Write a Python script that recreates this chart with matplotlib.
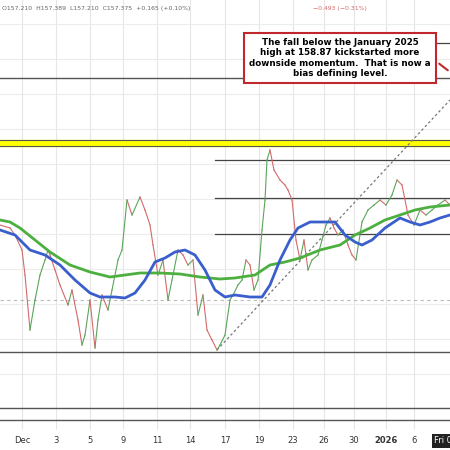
import matplotlib
matplotlib.use("Agg")
import matplotlib.pyplot as plt
import numpy as np

bar_x = [0,10,15,22,25,30,35,40,45,48,50,55,60,68,72,78,82,85,90,95,98,102,108,112,118,122,127,132,140,145,150,153,158,163,168,172,178,183,188,193,198,203,207,212,217,220,225,230,233,238,242,246,250,254,258,262,265,267,270,274,280,285,288,292,296,300,304,308,312,318,322,326,330,334,338,343,348,352,356,362,368,374,380,386,392,397,402,408,414,420,426,432,438,445,450]
price = [157.17,157.11,156.97,156.67,156.17,155.07,155.67,156.17,156.47,156.67,156.57,156.27,155.97,155.57,155.87,155.27,154.77,154.97,155.67,154.71,155.27,155.77,155.47,155.87,156.47,156.67,157.67,157.37,157.73,157.47,157.17,156.77,156.17,156.47,155.67,156.07,156.67,156.57,156.37,156.47,155.37,155.77,155.07,154.87,154.67,154.77,154.97,155.67,155.77,155.97,156.07,156.47,156.37,155.87,156.07,157.07,157.67,158.47,158.67,158.27,158.07,157.97,157.87,157.67,156.87,156.47,156.87,156.27,156.47,156.57,156.87,157.17,157.31,157.11,156.97,157.07,156.77,156.57,156.47,157.23,157.47,157.57,157.67,157.57,157.77,158.07,157.97,157.37,157.17,157.47,157.37,157.47,157.57,157.67,157.57]
blue_x = [0,15,30,45,60,75,90,100,115,125,135,145,155,165,175,185,195,205,215,225,235,250,262,270,280,290,298,310,320,335,345,355,362,372,385,400,410,420,430,440,450]
blue_ma = [157.07,156.97,156.67,156.57,156.37,156.07,155.81,155.73,155.73,155.71,155.81,156.07,156.43,156.51,156.63,156.67,156.57,156.27,155.87,155.73,155.77,155.73,155.73,155.97,156.47,156.87,157.11,157.23,157.23,157.23,156.97,156.83,156.77,156.87,157.11,157.31,157.23,157.17,157.23,157.31,157.37]
green_x = [0,10,20,35,50,70,90,110,125,140,160,180,200,220,235,255,270,285,300,320,340,355,370,385,400,415,430,450]
green_ma = [157.27,157.23,157.11,156.87,156.63,156.37,156.23,156.13,156.17,156.21,156.21,156.19,156.13,156.09,156.11,156.17,156.37,156.43,156.51,156.67,156.77,156.97,157.11,157.27,157.37,157.47,157.53,157.57]
full_levels = [160.11, 154.63, 153.51, 153.27]
short_levels = [158.47, 157.71, 156.99]
date_labels = ["Dec","3","5","9","11","14","17","19","23","26","30","2026","6"]
date_x = [22,56,90,123,157,190,225,259,293,324,354,386,414]

fig = plt.figure(figsize=(4.5,4.5), dpi=100)
ax = fig.add_axes([0,0,1,1])
ax.set_xlim(0,450); ax.set_ylim(152.67,161.67)
ax.axis('off')
for gx in date_x:
    ax.axvline(gx, color='#e6e6e6', lw=0.8, zorder=0)
for gy in np.arange(152.8,161.6,0.7):
    ax.axhline(gy, color='#ececec', lw=0.8, zorder=0)
ax.axhspan(158.75,158.87, color='#ffff00', zorder=1)
ax.axhline(158.87, color='#555', lw=0.8); ax.axhline(158.75, color='#555', lw=0.8)
for l in full_levels:
    ax.axhline(l, color='#555', lw=1)
for l in short_levels:
    ax.plot([215,450],[l,l], color='#444', lw=0.9)
ax.plot([410,450],[160.81,160.81], color='#444', lw=0.9)
ax.axhline(155.67, color='#bbb', lw=0.8, ls=(0,(3,3)))
ax.plot([217,450],[154.67,159.67], color='#777', lw=0.9, ls=(0,(2,2)))
for i in range(len(price)-1):
    c = '#5aa55a' if price[i+1] >= price[i] else '#d46a6a'
    ax.plot(bar_x[i:i+2], price[i:i+2], color=c, lw=0.8, zorder=2)
ax.plot(green_x, green_ma, color='#4caf3f', lw=2, zorder=3)
ax.plot(blue_x, blue_ma, color='#3a5fcd', lw=2, zorder=3)
ax.add_patch(plt.Rectangle((0,0.0),1,0.045,transform=ax.transAxes,color='white',zorder=4))
for lab,x in zip(date_labels,date_x):
    ax.text(x,0.015,lab,transform=ax.get_xaxis_transform(),ha='center',fontsize=6,
            color='#333',fontweight='bold' if lab=='2026' else 'normal',zorder=5)
ax.text(434,0.015,"Fri 0",transform=ax.get_xaxis_transform(),fontsize=6,color='white',zorder=6,
        bbox=dict(boxstyle='square,pad=0.3',fc='#222',ec='none'))
ax.text(0.005,0.982,"O157.210  H157.389  L157.210  C157.375  +0.165 (+0.10%)",transform=ax.transAxes,
        fontsize=4.4,color='#666',va='center')
ax.text(0.695,0.982,"\u22120.493 (\u22120.31%)",transform=ax.transAxes,fontsize=4.4,color='#d46a6a',va='center')
ax.text(340/450,1-58/450,"The fall below the January 2025\nhigh at 158.87 kickstarted more\ndownside momentum.  That is now a\nbias defining level.",
        transform=ax.transAxes,ha='center',va='center',fontsize=6.3,fontweight='bold',zorder=7,
        bbox=dict(boxstyle='square,pad=0.6',fc='white',ec='#c0282d',lw=1.5))
ax.annotate("",xy=(1.0,1-72/450),xytext=(437/450,1-62/450),xycoords='axes fraction',
            arrowprops=dict(arrowstyle='-',color='#c0282d',lw=1.5),zorder=7)
fig.savefig("out.png", dpi=100)
